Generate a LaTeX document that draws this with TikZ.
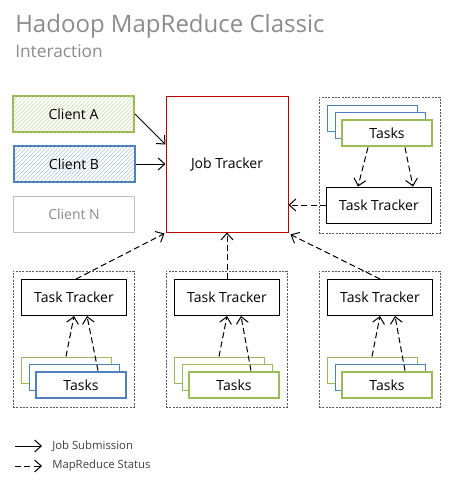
\documentclass[tikz,border=0pt]{standalone}
\usepackage{fontspec}
\setmainfont{Open Sans}
\usetikzlibrary{arrows.meta,patterns,calc}
\definecolor{hgreen}{HTML}{9BBB59}
\definecolor{hblue}{HTML}{4F81BD}
\definecolor{hred}{HTML}{C00000}
\definecolor{hgray}{HTML}{BFBFBF}
\definecolor{htitle}{HTML}{8C8C8C}
\definecolor{hframe}{HTML}{595959}
\tikzset{
  box/.style={draw, fill=white, line width=0.75pt, minimum width=78.75pt,
    minimum height=27pt, inner sep=0pt, font=\fontsize{10.5}{12}\selectfont},
  client/.style={box, minimum width=90.75pt, line width=1.5pt},
  tasks/.style={draw, fill=white, line width=0.75pt, minimum width=67.5pt,
    minimum height=19.5pt, inner sep=0pt, font=\fontsize{10.5}{12}\selectfont},
  lead/.style={tasks, line width=2pt},
  group/.style={draw=hframe, dash pattern=on 1.5pt off 1pt, line width=0.6pt,
    minimum width=90.75pt, minimum height=102pt},
  submit/.style={-{Straight Barb[length=5pt,width=9pt]}, line width=0.75pt},
  status/.style={submit, dash pattern=on 4.5pt off 2.5pt},
  legend/.style={anchor=west, inner sep=0pt, text=black!75,
    font=\fontsize{8.5}{10}\selectfont},
}
\begin{document}
\begin{tikzpicture}[x=0.75pt, y=-0.75pt]
  \useasboundingbox (0,0) rectangle (456,490);
  % title
  \node[anchor=base west, inner sep=0pt, text=htitle,
    font=\fontsize{18}{20}\selectfont] (title) at (15,32) {Hadoop MapReduce Classic};
  \node[anchor=base west, inner sep=0pt, text=htitle,
    font=\fontsize{13}{15}\selectfont] (subtitle) at (15,57) {Interaction};
  % clients and job tracker
  \node[client, draw=hgreen, pattern=north east lines, pattern color=hgreen!55] (ca) at (73.5,114) {};
  \node[font=\fontsize{10.5}{12}\selectfont] at (ca) {Client A};
  \node[client, draw=hblue, pattern=north east lines, pattern color=hblue!45] (cb) at (74,164) {};
  \node[font=\fontsize{10.5}{12}\selectfont] at (cb) {Client B};
  \node[client, draw=hgray, line width=0.75pt, text=black!45] (cn) at (74,214) {Client N};
  \node[box, draw=hred, minimum width=91.5pt, minimum height=102pt] (jt) at (227,164) {Job Tracker};
  % top right group
  \node[group] (g4) at (379.5,165) {};
  \node[tasks, draw=hblue] (b4) at (372,118) {};
  \node[tasks, draw=hblue] (m4) at (380,125) {};
  \node[lead, draw=hgreen] (f4) at (387,133) {Tasks};
  \node[box] (t4) at (379,205) {Task Tracker};
  % bottom groups
  \node[group] (g1) at (73.5,339) {};
  \node[box] (t1) at (74,297.5) {Task Tracker};
  \node[tasks, draw=hgreen] (b1) at (66,370) {};
  \node[tasks, draw=hblue] (m1) at (74,377) {};
  \node[lead, draw=hblue] (f1) at (81,385) {Tasks};
  \node[group] (g2) at (226.5,339) {};
  \node[box] (t2) at (227,297.5) {Task Tracker};
  \node[tasks, draw=hgreen] (b2) at (219,370) {};
  \node[tasks, draw=hgreen] (m2) at (227,377) {};
  \node[lead, draw=hgreen] (f2) at (234,385) {Tasks};
  \node[group] (g3) at (379.5,339) {};
  \node[box] (t3) at (380,297.5) {Task Tracker};
  \node[tasks, draw=hgreen] (b3) at (372,370) {};
  \node[tasks, draw=hblue] (m3) at (380,377) {};
  \node[lead, draw=hgreen] (f3) at (387,385) {Tasks};
  % legend
  \coordinate (ljs0) at (15,446);
  \node[legend] (ljs) at (52,446) {Job Submission};
  \coordinate (lms0) at (15,466);
  \node[legend] (lms) at (52,466) {MapReduce Status};
  \begin{scope}
    \draw[submit] (ca.east) -- ($(jt.north west)+(0,49)$);
    \draw[submit] (cb.east) -- (cb.east -| jt.west);
    \draw[status] ($(f4.south)+(-19,0)$) -- ($(t4.north)+(-21,0)$);
    \draw[status] ($(f4.south)+(18,0)$) -- ($(t4.north)+(34,0)$);
    \draw[status] (t4.west) -- (t4.west -| jt.east);
    \draw[status] (b1.north) -- (t1.south);
    \draw[status] ($(f1.north)+(17,0)$) -- ($(t1.south)+(13,0)$);
    \draw[status] (b2.north) -- (t2.south);
    \draw[status] ($(f2.north)+(17,0)$) -- ($(t2.south)+(14,0)$);
    \draw[status] (b3.north) -- (t3.south);
    \draw[status] ($(f3.north)+(18,0)$) -- ($(t3.south)+(15,0)$);
    \draw[status] ($(t1.north)+(2,0)$) -- ($(jt.south west)+(-1,1)$);
    \draw[status] (t2.north) -- (t2.north |- jt.south);
    \draw[status] (t3.north) -- ($(jt.south east)+(2,2)$);
    \draw[submit] (ljs0) -- ($(ljs.west)+(-10,0)$);
    \draw[status] (lms0) -- ($(lms.west)+(-10,0)$);
  \end{scope}
\end{tikzpicture}
\end{document}
